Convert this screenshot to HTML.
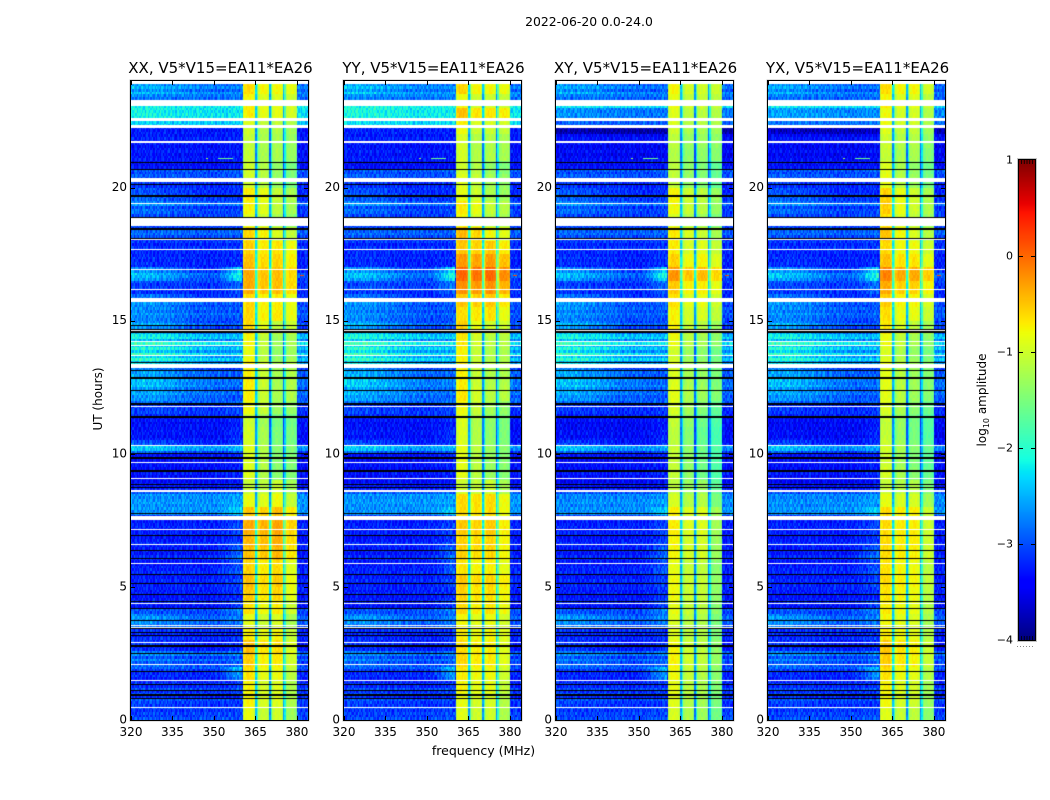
<!DOCTYPE html>
<html lang="en">
<head>
<meta charset="utf-8">
<title>Dynamic spectrum 2022-06-20</title>
<style>
html,body{margin:0;padding:0;background:#fff}
#figure{position:relative;width:1050px;height:800px;overflow:hidden;background:#fff;font-family:"DejaVu Sans","Liberation Sans",sans-serif}
canvas{position:absolute;display:block}
svg{position:absolute;left:0;top:0}
text{font-family:"DejaVu Sans","Liberation Sans",sans-serif;fill:#000}
</style>
</head>
<body>
<div id="figure">
<svg id="overlay" width="1050" height="800" viewBox="0 0 1050 800"></svg>
</div>
<script>
/* ---------- data (values are log10 amplitude) ---------- */
const panelTitles = ["XX, V5*V15=EA11*EA26","YY, V5*V15=EA11*EA26","XY, V5*V15=EA11*EA26","YX, V5*V15=EA11*EA26"];
const panelKeys = ["xx","yy","xy","yx"];
const freqTicks = [320,335,350,365,380];
const hourTicks = [0,5,10,15,20];
const colorbarTicks = [1,0,-1,-2,-3,-4];

/* broadband level below 360 MHz, one value per 0.1 h from hour 0 */
const lowLevels = [
-3.0,-3.1,-3.05,-3.15,-3.0,-3.2,-3.15,-3.05,-3.25,-3.1,
-3.2,-3.05,-3.25,-3.15,-3.25,-3.3,-3.2,-3.25,-3.15,-2.95,
-3.05,-3.1,-2.9,-3.15,-2.85,-2.95,-3.35,-3.4,-3.3,-3.35,
-3.2,-3.35,-3.25,-3.2,-3.2,-3.05,-2.95,-3.0,-2.9,-3.05,
-3.05,-3.0,-3.4,-3.35,-3.25,-3.3,-3.35,-3.25,-3.3,-3.25,
-3.25,-3.3,-3.2,-3.3,-3.35,-3.2,-3.25,-3.25,-3.35,-3.3,
-3.25,-3.2,-3.35,-3.25,-3.3,-3.25,-3.2,-3.3,-3.35,-3.25,
-3.25,-3.3,-3.2,-3.25,-3.3,-3.35,-3.15,-2.65,-2.7,-2.65,
-2.7,-2.6,-2.65,-2.7,-2.65,-2.95,-3.25,-3.35,-3.3,-3.4,
-3.35,-3.4,-3.3,-3.35,-3.4,-3.35,-3.3,-3.4,-3.35,-3.35,
-3.15,-2.7,-2.65,-3.25,-3.35,-3.3,-3.4,-3.35,-3.35,-3.4,
-3.35,-3.4,-3.3,-3.35,-3.2,-3.15,-3.15,-3.2,-3.2,-2.95,
-2.95,-3.0,-2.85,-2.9,-2.95,-2.8,-2.9,-2.85,-3.05,-3.0,
-2.95,-3.1,-3.15,-2.6,-2.85,-2.4,-2.7,-2.3,-2.75,-2.45,
-2.7,-2.25,-2.8,-2.4,-2.5,-2.9,-3.05,-3.15,-2.95,-3.15,
-3.05,-3.0,-2.9,-3.05,-2.95,-3.1,-3.0,-3.05,-3.2,-3.2,
-3.25,-3.2,-3.15,-3.2,-3.1,-3.15,-3.0,-2.95,-3.2,-3.25,
-3.3,-3.25,-3.3,-3.2,-3.3,-3.2,-3.2,-3.15,-3.25,-3.1,
-3.2,-3.05,-2.9,-2.95,-3.1,-3.1,-3.1,-3.1,-2.95,-3.1,
-3.1,-3.05,-3.2,-2.85,-3.0,-3.15,-3.15,-3.2,-3.25,-3.2,
-3.25,-3.2,-3.1,-3.1,-3.0,-3.05,-2.95,-3.35,-3.4,-3.35,
-3.3,-3.35,-3.4,-3.3,-3.35,-3.4,-3.3,-3.35,-3.25,-3.35,
-3.3,-3.35,-3.25,-2.4,-2.4,-2.4,-2.3,-2.25,-2.3,-2.25,
-2.25,-2.3,-2.35,-2.9,-2.8,-2.7,-2.95,-2.75,-2.9,-2.8
];

/* per-hour panel offsets of the broadband level */
const lowOffsetXX = [0,0,0,0,0,0,0,0,0,0,0,0,0,0,0,0,0,0,0,0,0,0,0,0];
const lowOffsetYY = [0,0,0,0,0,0,0,0,0,0,0,0,.05,.05,.05,0,.05,0,0,0,0,0,.05,.05];
const lowOffsetXY = [0,0,0,0,0,0,0,0,-.05,0,-.05,-.05,0,0,0,0,0,0,0,0,0,-.1,-.55,-.05];
const lowOffsetYX = [0,0,0,0,0,0,0,0,-.05,0,-.05,-.05,0,0,0,0,.05,0,0,0,0,-.1,-.45,-.05];

/* strength of the left hump and the 350-360 MHz shoulder, one value per 0.5 h */
const humpRows = [0,.1,.05,.05,.2,.2,.05,.3,.05,0,0,0,0,0,0,0,0,0,0,0,.3,.05,0,.1,.35,.45,.4,.45,.35,.5,.3,.4,.1,.55,.1,0,.05,.05,.25,.25,.1,0,.05,.05,.05,.15,.1,.3];
const edgeRows = [.05,.05,.1,.6,.15,.2,.1,.2,.3,.15,.2,.3,.4,.2,.2,.3,.1,.05,.1,.1,.2,.2,.1,.1,0,.05,.05,.05,.05,.1,.05,.1,.3,.9,.1,.05,.05,.05,.05,.05,.05,.05,.05,.05,.05,.05,.05,.05];

/* spectral shapes, one value per MHz from 320 MHz */
const humpShape = [1,1,.9,1,1,.9,.95,1,.9,.85,.8,.85,.7,.75,.65,.7,.55,.5,.55,.4,.45,.3,.35,.25,.2,.25,.15,.2,.1,.15,.1,.05,.1,.05,0,.05,0,0,0,0];
const edgeShape = [0,0,0,0,0,0,0,0,0,0,0,0,0,0,0,0,0,0,0,0,0,0,0,0,0,0,0,0,0,0,.05,.1,.2,.3,.4,.55,.7,.8,.9,1];

/* small channel-to-channel texture, one value per 0.5 MHz channel */
const channelGrain = [
.12,-.2,.05,.28,-.1,-.31,.18,.02,-.24,.33,-.05,.14,-.28,.09,.22,-.16,
-.02,.3,-.19,.07,-.33,.16,.25,-.12,.04,-.22,.31,-.08,.11,-.27,.2,-.03,
.26,-.14,-.3,.1,.19,-.06,.34,-.21,.03,-.11,.23,-.29,.13,.06,-.18,.27,
-.25,.08,.32,-.15,-.04,.21,-.32,.15,.01,-.09,.29,-.23,.17,-.13,.24,-.01,
.1,-.26,.35,-.07,-.17,.2,.05,-.3,.16,.28,-.12,-.2,.09,-.34,.25,.02,
-.1,.19,-.24,.31,-.03,.13,-.28,.22,.07,-.15,.3,-.19,.04,.18,-.33,.11,
.26,-.08,-.22,.14,.33,-.27,.06,-.11,.23,-.02,-.31,.17,.29,-.16,.08,-.21,
.12,.27,-.06,-.29,.2,-.14,.03,.32,-.25,.1,-.04,.24,-.18,.15,-.35,.21
];

/* band shape for the 0.5 MHz channels from 360.5 to 380 MHz: four blocks and three notches */
const bandShape = [-.15,0,.05,.05,.05,.05,.05,0,-.1,-1.6,-.8,-.1,0,.05,.05,.05,.05,0,-.1,-1.6,-.8,-.1,0,.05,.05,.05,.05,0,-.1,-1.6,-.8,-.1,0,.05,.05,.05,.05,0,-.1];
const bandEdges = [360.5,365.5,370.5,375.5,380];

/* in-band level, one value per 0.5 h */
const bandXX = [-1.1,-1.0,-1.0,-.9,-.8,-.7,-.9,-1.1,-.85,-.7,-.65,-.75,-.55,-.5,-.45,-.65,-1.0,-1.15,-1.2,-1.2,-1.25,-1.25,-1.3,-1.1,-1.1,-1.1,-1.1,-1.25,-1.2,-.95,-.8,-.8,-.55,-.55,-.65,-.75,-.8,-1.1,-.95,-.9,-1.2,-1.2,-1.25,-1.25,-1.2,-1.0,-1.0,-.85];
const bandYY = [-1.05,-1.0,-.9,-.85,-.75,-.75,-.85,-.95,-.75,-.7,-.65,-.8,-.65,-.65,-.6,-.75,-.75,-1.1,-1.15,-1.15,-1.2,-1.2,-1.2,-1.1,-1.05,-1.1,-1.1,-1.15,-1.1,-.9,-.75,-.6,-.3,-.1,-.35,-.6,-.65,-1.0,-.9,-1.05,-1.1,-1.2,-1.2,-1.2,-1.05,-.8,-1.1,-.85];
const bandXY = [-1.25,-1.2,-1.15,-1.1,-1.05,-1.05,-1.15,-1.2,-1.1,-1.05,-1.05,-1.1,-1.0,-1.0,-.95,-1.0,-1.25,-1.35,-1.4,-1.4,-1.45,-1.45,-1.4,-1.3,-1.25,-1.3,-1.3,-1.4,-1.25,-1.1,-1.05,-.95,-.8,-.55,-.85,-1.0,-1.0,-1.25,-1.1,-1.05,-1.4,-1.4,-1.4,-1.35,-1.25,-1.25,-1.15,-1.05];
const bandYX = [-1.1,-1.0,-.95,-.85,-.75,-.7,-.85,-.95,-.85,-.8,-.75,-.8,-.75,-.75,-.75,-.8,-1.05,-1.2,-1.25,-1.3,-1.3,-1.35,-1.35,-1.25,-1.2,-1.2,-1.2,-1.3,-1.2,-1.0,-.9,-.8,-.6,-.4,-.7,-.85,-.85,-1.0,-.9,-.9,-1.2,-1.25,-1.25,-1.2,-1.1,-1.1,-1.0,-.85];

/* block offsets within the band, one value per 3 h */
const blocksXX = [[.2,.15,.05,.25,.3,.15,.15,.15],[0,0,0,0,0,0,0,0],[.05,.1,.1,-.25,-.2,.05,-.2,0],[-.25,-.2,-.15,-.3,-.15,-.1,-.35,-.1]];
const blocksYY = [[.1,.1,.05,.25,.3,.05,.15,.2],[0,0,0,0,0,0,0,0],[0,.05,.05,-.2,-.15,.05,-.2,0],[-.2,-.1,-.15,-.3,-.15,-.15,-.3,-.05]];
const blocksXY = [[.25,.2,.2,.3,.3,.25,.25,.2],[0,0,0,0,0,0,0,0],[-.1,-.05,0,-.2,-.1,.05,-.1,0],[-.35,-.35,-.35,-.4,-.25,-.1,-.3,-.05]];
const blocksYX = [[.15,.1,.1,.25,.25,.2,.3,.15],[0,0,0,0,0,0,0,0],[-.05,-.05,0,-.2,-.15,0,-.15,0],[-.35,-.35,-.3,-.4,-.3,-.2,-.35,-.2]];

/* flagged time ranges in hours: white = no data, black = zeroed */
const whiteFlags = [[.45,.49],[1.47,1.51],[2.08,2.12],[2.88,2.92],[3.47,3.51],[3.54,3.58],[4.36,4.4],[5.87,5.91],[6.58,6.62],[7.14,7.18],[7.51,7.67],[8.55,8.65],[9.06,9.1],[9.66,9.7],[10.3,10.34],[11.76,11.8],[13.23,13.37],[13.66,13.7],[14.06,14.1],[14.19,14.23],[14.6,14.64],[15.71,15.86],[16.16,16.2],[16.91,16.95],[17.66,17.7],[18.01,18.05],[18.55,18.84],[19.39,19.43],[20.21,20.36],[21.69,21.73],[22.25,22.35],[22.5,22.6],[23.07,23.29],[23.89,24]];
const blackFlags = [[.78,.82],[.92,.96],[1.1,1.14],[1.32,1.36],[1.79,1.83],[2.47,2.51],[2.76,2.8],[3.15,3.19],[3.25,3.29],[3.4,3.44],[3.72,3.76],[4.18,4.22],[4.42,4.46],[4.69,4.73],[5.09,5.13],[5.46,5.5],[6.05,6.09],[6.33,6.37],[6.92,6.96],[7.72,7.76],[8.7,8.74],[8.84,8.88],[9.32,9.4],[9.81,9.89],[10.0,10.04],[11.35,11.43],[11.84,11.92],[12.34,12.38],[12.81,12.89],[13.09,13.13],[13.4,13.44],[14.52,14.6],[14.66,14.7],[14.78,14.82],[18.07,18.11],[18.4,18.48],[18.86,18.9],[19.66,19.7],[20.09,20.13],[20.66,20.7],[20.93,20.97]];

/* narrow interference: hour, from MHz, to MHz, level */
const rfiSpots = [[21.1,351.5,357,-1.6],[21.1,347,348,-1.3],[16.7,381,382.5,.2]];

/* ---------- scales ---------- */
const panelLefts = [131,344,556,768];
const panelW = 177, plotTop = 81, plotBottom = 720;
const freqMin = 320, freqMax = 384, hourMax = 24, chanCount = 128, rowCount = 240;
const barX = 1019, barW = 16, barTop = 160, barBottom = 640, cMin = -4, cMax = 1;
const bandStartChan = 81, bandEndChan = 120;
const lowOffsets = [lowOffsetXX,lowOffsetYY,lowOffsetXY,lowOffsetYX];
const bandLevels = [bandXX,bandYY,bandXY,bandYX];
const bandBlocks = [blocksXX,blocksYY,blocksXY,blocksYX];

function xScale(freq){ return (freq - freqMin) / (freqMax - freqMin) * panelW; }
function yScale(hour){ return plotBottom - hour / hourMax * (plotBottom - plotTop); }
function barY(level){ return barBottom - (level - cMin) / (cMax - cMin) * (barBottom - barTop); }
function jet(t){
  t = Math.max(0, Math.min(1, t));
  const piece = (pts) => {
    for (let i = 1; i < pts.length; i++) {
      if (t <= pts[i][0]) {
        const f = (t - pts[i-1][0]) / (pts[i][0] - pts[i-1][0]);
        return pts[i-1][1] + f * (pts[i][1] - pts[i-1][1]);
      }
    }
    return pts[pts.length-1][1];
  };
  const r = piece([[0,0],[.35,0],[.66,1],[.89,1],[1,.5]]);
  const g = piece([[0,0],[.125,0],[.375,1],[.64,1],[.91,0],[1,0]]);
  const b = piece([[0,.5],[.11,1],[.34,1],[.65,0],[1,0]]);
  return "rgb(" + Math.round(r*255) + "," + Math.round(g*255) + "," + Math.round(b*255) + ")";
}
function colorOf(level){ return jet((level - cMin) / (cMax - cMin)); }

function cellLevel(p, r, c){
  const bin = Math.floor(r / 5), epoch = Math.floor(r / 30);
  const grain = channelGrain[(c + r * 37 + p * 53) % chanCount];
  const freq = freqMin + c * (freqMax - freqMin) / chanCount;
  if (c >= bandStartChan && c < bandEndChan) {
    let block = 0;
    while (block < 3 && freq >= bandEdges[block + 1]) block++;
    return bandLevels[p][bin] + bandBlocks[p][block][epoch] + bandShape[c - bandStartChan] + grain * 0.28 + 0.1 * (lowLevels[r] + 3.2);
  }
  const hour = Math.floor(r / 10), mhz = Math.floor(freq - freqMin);
  let level = lowLevels[r] + lowOffsets[p][hour] + grain * 0.85;
  if (mhz < humpShape.length) {
    level += humpRows[bin] * humpShape[mhz] + edgeRows[bin] * edgeShape[mhz];
  }
  return level;
}

/* ---------- drawing ---------- */
const figure = document.getElementById("figure");
const overlay = document.getElementById("overlay");
const NS = "http://www.w3.org/2000/svg";

function svgEl(tag, attrs){
  const el = document.createElementNS(NS, tag);
  for (const k in attrs) el.setAttribute(k, attrs[k]);
  overlay.appendChild(el);
  return el;
}
function svgText(str, x, y, size, anchor){
  const el = svgEl("text", {x: x, y: y, "font-size": size, "text-anchor": anchor});
  el.textContent = str;
  return el;
}
function drawFlags(ctx, list, color){
  ctx.fillStyle = color;
  list.forEach(function(flag){
    const y0 = Math.round(yScale(flag[1]) - plotTop);
    const y1 = Math.round(yScale(flag[0]) - plotTop);
    ctx.fillRect(0, y0, panelW, Math.max(1, y1 - y0));
  });
}

panelLefts.forEach(function(left, p){
  const canvas = document.createElement("canvas");
  canvas.width = panelW;
  canvas.height = plotBottom - plotTop;
  canvas.style.left = left + "px";
  canvas.style.top = plotTop + "px";
  
  
  figure.insertBefore(canvas, overlay);
  const ctx = canvas.getContext("2d");
  for (let r = 0; r < rowCount; r++) {
    const yA = Math.round(yScale((r + 1) * hourMax / rowCount) - plotTop);
    const yB = Math.round(yScale(r * hourMax / rowCount) - plotTop);
    for (let c = 0; c < chanCount; c++) {
      const xA = Math.round(xScale(freqMin + c * (freqMax - freqMin) / chanCount));
      const xB = Math.round(xScale(freqMin + (c + 1) * (freqMax - freqMin) / chanCount));
      ctx.fillStyle = colorOf(cellLevel(p, r, c));
      ctx.fillRect(xA, yA, xB - xA, yB - yA);
    }
  }
  rfiSpots.forEach(function(spot){
    ctx.fillStyle = colorOf(spot[3]);
    const xA = Math.round(xScale(spot[1]));
    ctx.fillRect(xA, Math.round(yScale(spot[0]) - plotTop), Math.max(1, Math.round(xScale(spot[2])) - xA), 1);
  });
  drawFlags(ctx, whiteFlags, "#fff");
  drawFlags(ctx, blackFlags, "#000");

  const halo = svgEl("rect", {x: left - 1, y: plotTop - 1, width: panelW + 2, height: plotBottom - plotTop + 2, fill: "none", stroke: "#c4c4c4", "stroke-width": 1});
  
  
  const frame = svgEl("rect", {x: left - 0.5, y: plotTop - 0.5, width: panelW + 1, height: plotBottom - plotTop + 1, fill: "none", stroke: "#000", "stroke-width": 1});
  
  

  const title = svgText(panelTitles[p], left + panelW / 2 + 1, 73, 15, "middle");
  
  

  freqTicks.forEach(function(freq){
    const x = Math.round(left + xScale(freq)) + 0.5;
    const bottomTick = svgEl("line", {x1: x, x2: x, y1: plotBottom, y2: plotBottom - 4, stroke: "#000", "stroke-width": 1});
    
    
    const topTick = svgEl("line", {x1: x, x2: x, y1: plotTop, y2: plotTop + 4, stroke: "#000", "stroke-width": 1});
    
    
    const label = svgText(String(freq), left + xScale(freq), 736, 12, "middle");
    
    
  });
  hourTicks.forEach(function(hour){
    const y = Math.round(yScale(hour)) + 0.5;
    const leftTick = svgEl("line", {x1: left, x2: left + 4, y1: y, y2: y, stroke: "#000", "stroke-width": 1});
    
    
    const rightTick = svgEl("line", {x1: left + panelW, x2: left + panelW - 4, y1: y, y2: y, stroke: "#000", "stroke-width": 1});
    
    
    const label = svgText(String(hour), left - 4, yScale(hour) + 3.5, 12, "end");
    
    
  });
});

const mainTitle = svgText("2022-06-20 0.0-24.0", 589, 26, 12.4, "middle");


const xTitle = svgText("frequency (MHz)", 483.5, 755, 12.5, "middle");


const yTitle = svgText("UT (hours)", 0, 0, 12, "middle");
yTitle.setAttribute("transform", "translate(102 399) rotate(-90)");



/* colorbar */
const barCanvas = document.createElement("canvas");
barCanvas.width = barW;
barCanvas.height = barBottom - barTop;
barCanvas.style.left = barX + "px";
barCanvas.style.top = barTop + "px";


figure.insertBefore(barCanvas, overlay);
const barCtx = barCanvas.getContext("2d");
for (let i = 0; i < barCanvas.height; i++) {
  barCtx.fillStyle = jet(1 - (i + 0.5) / barCanvas.height);
  barCtx.fillRect(0, i, barW, 1);
}
const barHalo = svgEl("rect", {x: barX - 1.5, y: barTop - 1.5, width: barW + 3, height: barBottom - barTop + 3, fill: "none", stroke: "#c4c4c4", "stroke-width": 1});


const barFrame = svgEl("rect", {x: barX - 0.5, y: barTop - 0.5, width: barW + 1, height: barBottom - barTop + 1, fill: "none", stroke: "#000", "stroke-width": 1});


colorbarTicks.forEach(function(level){
  const y = barY(level);
  if (level > cMin && level < cMax) {
    const leftTick = svgEl("line", {x1: barX, x2: barX + 4, y1: Math.round(y) + 0.5, y2: Math.round(y) + 0.5, stroke: "#000", "stroke-width": 1});
    
    
    const rightTick = svgEl("line", {x1: barX + barW, x2: barX + barW - 4, y1: Math.round(y) + 0.5, y2: Math.round(y) + 0.5, stroke: "#000", "stroke-width": 1});
    
    
  }
  const label = svgText(level < 0 ? "\u2212" + (-level) : String(level), barX - 6, y + 3.5, 11, "end");
  
  
});
for (let i = 0; i < 5; i++) {
  const x = barX + 2.5 + i * 2.75;
  const topMinor = svgEl("line", {x1: x, x2: x, y1: barTop, y2: barTop + 4, stroke: "#000", "stroke-width": 0.8});
  
  
  const bottomMinor = svgEl("line", {x1: x, x2: x, y1: barBottom, y2: barBottom - 4, stroke: "#000", "stroke-width": 0.8});
  
  
}
const barDots = svgEl("line", {x1: barX - 2, x2: barX + barW, y1: 646.5, y2: 646.5, stroke: "#888", "stroke-width": 1, "stroke-dasharray": "1 2"});


const barTitle = svgEl("text", {transform: "translate(986 400) rotate(-90)", "font-size": 12, "text-anchor": "middle"});


barTitle.appendChild(document.createTextNode("log"));
const barSub = document.createElementNS(NS, "tspan");
barSub.setAttribute("font-size", "8");
barSub.setAttribute("dy", "3");
barSub.textContent = "10";
barTitle.appendChild(barSub);
const barRest = document.createElementNS(NS, "tspan");
barRest.setAttribute("dy", "-3");
barRest.textContent = " amplitude";
barTitle.appendChild(barRest);
</script>
</body>
</html>
